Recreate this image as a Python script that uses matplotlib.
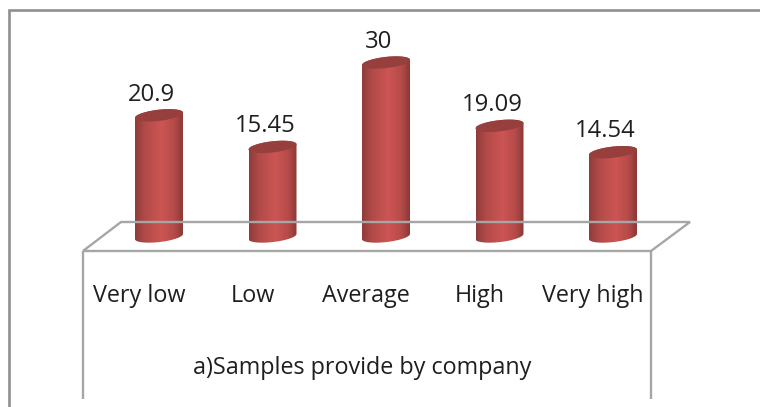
import numpy as np
import matplotlib
matplotlib.use("Agg")
import matplotlib.pyplot as plt
from matplotlib.colors import LinearSegmentedColormap
from matplotlib.lines import Line2D
from matplotlib.patches import Polygon

categories = ["Very low", "Low", "Average", "High", "Very high"]
values = [20.9, 15.45, 30, 19.09, 14.54]
value_labels = ["20.9", "15.45", "30", "19.09", "14.54"]
caption = "a)Samples provide by company"

W, H = 760, 407
X0, XU = 159.0, 113.5   # pixel of category 0, pixels per category
Y0, YU = 236.5, 5.8     # pixel of value 0, pixels per unit
plt.rcParams["font.family"] = ["Open Sans", "DejaVu Sans"]

fig = plt.figure(figsize=(W / 100, H / 100), dpi=100, facecolor="white")
ax = fig.add_axes([0, 0, 1, 1])
ax.set_xlim((0 - X0) / XU, (W - X0) / XU)
ax.set_ylim((Y0 - H) / YU, Y0 / YU)
ax.axis("off")


def fx(p):
    return p / W


def fy(p):
    return 1 - p / H


def line(xs, ys, color="#a6a6a6", lw=2.0):
    fig.add_artist(Line2D([fx(x) for x in xs], [fy(y) for y in ys],
                          color=color, lw=lw, transform=fig.transFigure,
                          zorder=1, solid_capstyle="butt", solid_joinstyle="miter"))


# outer chart border
line([8.5, 8.5, 760], [407, 9.5, 9.5], color="#8f8f8f", lw=1.9)
# floor and its front wall
line([83, 121, 690, 651, 83], [251, 222, 222, 251, 251], lw=1.7)
line([83, 83], [251, 399], lw=1.7)
line([651, 651], [251, 399], lw=1.7)

cmap = LinearSegmentedColormap.from_list(
    "cyl", [(0, "#8f3c3a"), (0.2, "#b04a48"), (0.55, "#cc5553"),
            (0.82, "#b54b49"), (1, "#8c3937")])
A, B, TILT = 24.0, 5.6, 2.6  # cylinder half width, ellipse half height, skew (pixels)
a = A / XU
b = B / YU
tl = TILT / YU
t = np.linspace(0, 2 * np.pi, 100)
lower = np.linspace(np.pi, 2 * np.pi, 50)
upper = np.linspace(0, np.pi, 50)
grad = np.linspace(0, 1, 200).reshape(1, -1)

for i, v in enumerate(values):
    ex = a * np.cos(t)
    ey = b * np.sin(t) + tl * np.cos(t)
    # body: top half arc of the top ellipse + lower arc of the base ellipse
    bx = np.r_[i + a * np.cos(lower), i + a * np.cos(upper)]
    by = np.r_[b * np.sin(lower) + tl * np.cos(lower),
               v + b * np.sin(upper) + tl * np.cos(upper)]
    clip = Polygon(np.c_[bx, by], closed=True, transform=ax.transData, fc="none", ec="none")
    ax.add_patch(clip)
    im = ax.imshow(grad, extent=[i - a, i + a, -3, v + 3], cmap=cmap, vmin=0, vmax=1,
                   aspect="auto", zorder=3, interpolation="bilinear")
    im.set_clip_path(clip)
    ax.fill(i + ex, v + ey, color="#973f3d", zorder=4, lw=0)
    ax.annotate(value_labels[i], (i, v), xytext=(-5.4, 10.6), textcoords="offset points",
                ha="center", va="baseline", fontsize=17.2, color="#1f1f1f", zorder=5)
    ax.text(i - 20 / XU, (Y0 - 295.5) / YU, categories[i], ha="center", va="center",
            fontsize=16.8, color="#1f1f1f", zorder=5)

ax.set_xlim((0 - X0) / XU, (W - X0) / XU)
ax.set_ylim((Y0 - H) / YU, Y0 / YU)
ax.text((362 - X0) / XU, (Y0 - 368.5) / YU, caption, ha="center", va="center",
        fontsize=16.8, color="#1f1f1f")

fig.savefig("out.png", dpi=100)
